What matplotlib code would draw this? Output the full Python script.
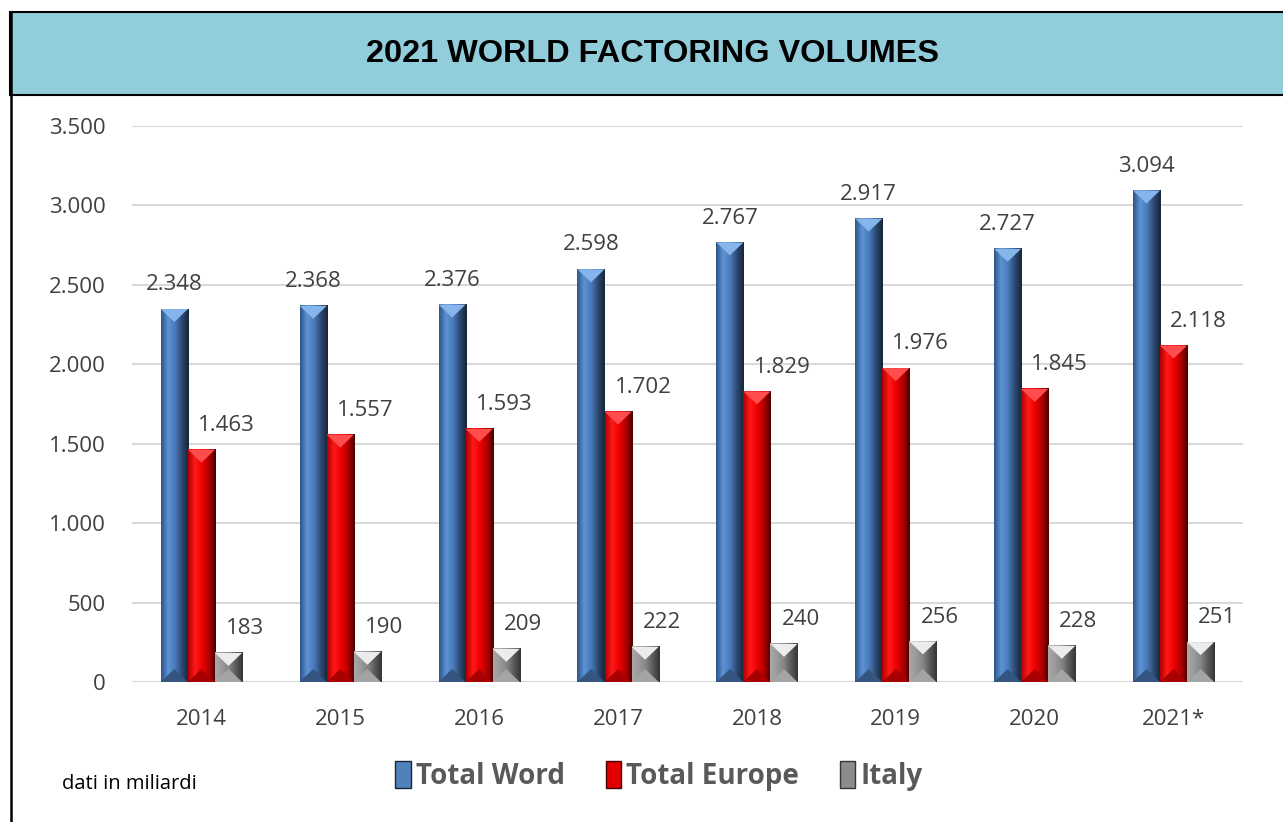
import numpy as np
import matplotlib.pyplot as plt
from matplotlib.colors import LinearSegmentedColormap
from matplotlib.patches import Polygon, Rectangle, Patch
from matplotlib.lines import Line2D
from matplotlib.ticker import FuncFormatter

# data (billions)
years = ["2014", "2015", "2016", "2017", "2018", "2019", "2020", "2021*"]
total_world = [2348, 2368, 2376, 2598, 2767, 2917, 2727, 3094]
total_europe = [1463, 1557, 1593, 1702, 1829, 1976, 1845, 2118]
italy = [183, 190, 209, 222, 240, 256, 228, 251]
series_names = ["Total Word", "Total Europe", "Italy"]

# bevel look: horizontal gradient stops, top/bottom triangle colours, legend colour
STYLES = [
    dict(grad=['#2f5584', '#5d92d6', '#4a7cbc', '#2c4a73', '#17263a'],
         top='#86b5ec', bot='#33557f', leg='#4f81bd', dx=-0.195, lab=0.0),
    dict(grad=['#b00000', '#ff1a1a', '#f00000', '#b00000', '#4a0000'],
         top='#ff4d4d', bot='#a80000', leg='#e00000', dx=0.0, lab=0.18),
    dict(grad=['#a8a8a8', '#9a9a9a', '#858585', '#5a5a5a', '#353535'],
         top='#ececec', bot='#a4a4a4', leg='#8c8c8c', dx=0.195, lab=0.12),
]
BAR_W = 0.195
TXT = '#404040'


def fmt(v):
    return f"{int(round(v)):,}".replace(",", ".")


def draw_bar(ax, xc, h, st, px_unit):
    x0, x1 = xc - BAR_W / 2, xc + BAR_W / 2
    cmap = LinearSegmentedColormap.from_list('g', st['grad'])
    grad = np.linspace(0, 1, 64).reshape(1, -1)
    ax.imshow(grad, extent=[x0, x1, 0, h], aspect='auto', cmap=cmap,
              interpolation='bilinear', zorder=3)
    d = min(h / 2, 13 * px_unit)
    ax.add_patch(Polygon([(x0, h), (x1, h), (xc, h - d)], closed=True,
                         facecolor=st['top'], edgecolor='none', zorder=4))
    ax.add_patch(Polygon([(x0, 0), (x1, 0), (xc, d)], closed=True,
                         facecolor=st['bot'], edgecolor='none', zorder=4))


def main():
    plt.rcParams['font.family'] = ['Open Sans', 'DejaVu Sans']
    fig = plt.figure(figsize=(12.83, 8.22), dpi=100)

    # header band and frame
    fig.patches.append(Rectangle((10 / 1283, 1 - 95 / 822), 1.0, 83 / 822,
                                 transform=fig.transFigure, facecolor='#92cddc',
                                 edgecolor='black', lw=1.5, zorder=0))
    fig.lines.append(Line2D([10.5 / 1283, 10.5 / 1283], [0, 1 - 12 / 822],
                            transform=fig.transFigure, color='black', lw=1.8))
    fig.text(653 / 1283, 1 - 54 / 822, "2021 WORLD FACTORING VOLUMES",
             ha='center', va='center', fontsize=23.4, fontweight='bold',
             family='Liberation Sans', color='black')

    ax = fig.add_axes([132 / 1283, 140 / 822, 1111 / 1283, 556 / 822])
    ymax = 3500
    px_unit = ymax / 556.0
    x = np.arange(len(years))
    for vals, st in zip([total_world, total_europe, italy], STYLES):
        for xi, v in zip(x, vals):
            draw_bar(ax, xi + st['dx'], v, st, px_unit)
            ax.annotate(fmt(v), (xi + st['dx'] + st['lab'], v),
                        xytext=(0, 17.5), textcoords='offset points',
                        ha='center', va='center', fontsize=16, color=TXT,
                        zorder=5)

    ax.set_xlim(-0.5, len(years) - 0.5)
    ax.set_ylim(0, ymax)
    ax.set_yticks(np.arange(0, 3501, 500))
    ax.yaxis.set_major_formatter(FuncFormatter(lambda v, p: fmt(v)))
    ax.set_xticks(x)
    ax.set_xticklabels(years)
    ax.tick_params(axis='both', length=0, labelsize=16, labelcolor=TXT)
    ax.tick_params(axis='y', pad=19)
    ax.tick_params(axis='x', pad=19.5)
    ax.grid(axis='y', color='#d9d9d9', lw=1.5, zorder=0)
    ax.set_axisbelow(True)
    for s in ax.spines.values():
        s.set_visible(False)

    handles = [Patch(facecolor=st['leg'], edgecolor=st['grad'][-1], lw=1)
               for st in STYLES]
    fig.legend(handles, series_names, loc='center', ncol=3, frameon=False,
               bbox_to_anchor=(659 / 1283, 1 - 776 / 822),
               prop=dict(family=['Open Sans', 'DejaVu Sans'], weight='bold', size=20),
               labelcolor='#595959', handlelength=0.55, handleheight=1.1,
               handletextpad=0.2, columnspacing=1.45)
    fig.text(62 / 1283, 1 - 784 / 822, "dati in miliardi", ha='left',
             va='center', fontsize=14.5, color='black')

    fig.savefig('out.png', dpi=100)


if __name__ == '__main__':
    main()
